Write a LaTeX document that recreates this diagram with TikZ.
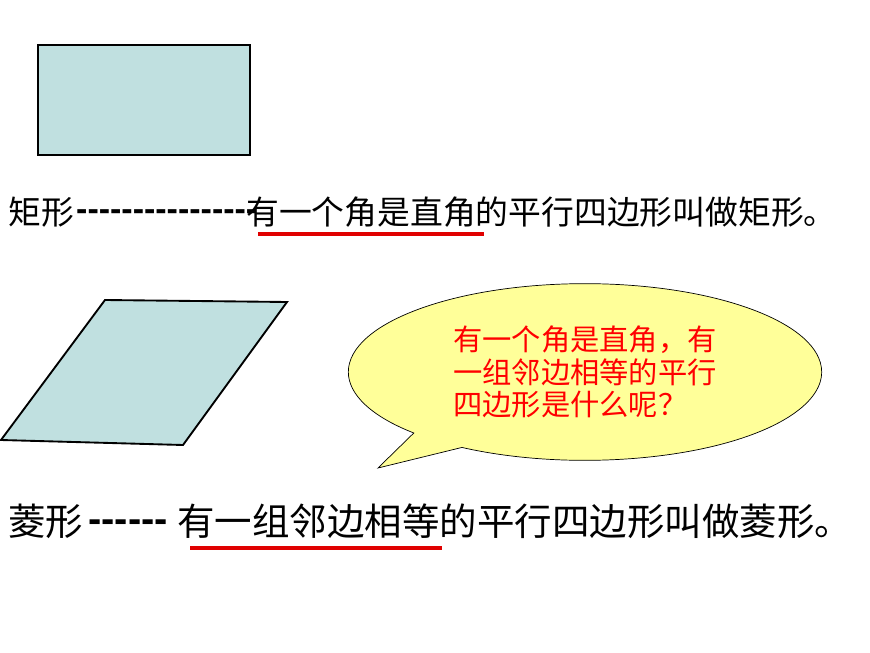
\documentclass[tikz,border=0pt]{standalone}
\usepackage{fontspec}
\newfontfamily\cjk{Noto Sans CJK SC}
\newfontfamily\dashfont{Liberation Sans}
\usetikzlibrary{shapes.callouts}
\definecolor{shapeblue}{HTML}{C0E0E0}
\definecolor{bubble}{HTML}{FFFF99}
\definecolor{linered}{HTML}{E00000}
\tikzset{
  figbox/.style={draw=black, line width=1.6pt, fill=shapeblue},
  rowa/.style={inner sep=0pt, anchor=west, font=\cjk\fontsize{28}{30}\selectfont},
  rowb/.style={inner sep=0pt, anchor=west, font=\cjk\fontsize{32}{34}\selectfont},
  underl/.style={draw=linered, line width=3pt}
}
\begin{document}
\begin{tikzpicture}[x=0.03cm,y=-0.03cm]
\useasboundingbox (0,0) rectangle (870,653);
% rectangle
\draw [figbox] (38,45) rectangle (250,155);
\node [rowa] (rname) at (8,212) {矩形};
\node [rowa, anchor=base west, font=\dashfont\bfseries\fontsize{29}{30}\selectfont] (rdash) at (76,221) {----------------};
\node [rowa] (rdef) at (246,212) {有一个角是直角的平行四边形叫做矩形。};
\coordinate (ra) at (258,234);
\coordinate (rb) at (484,234);
\draw [underl] (ra) -- (rb);
% parallelogram
\draw [figbox] (105,300) -- (287,302) -- (183,445) -- (1,440) -- cycle;
% bubble
\node [ellipse callout, draw=black, line width=0.6pt, fill=bubble,
  minimum width=14.2cm, minimum height=5.3cm,
  callout absolute pointer={(378,468)}, text=red, align=left,
  font=\cjk\fontsize{25}{28}\selectfont] (ask) at (585,372)
  {有一个角是直角，有\\一组邻边相等的平行\\四边形是什么呢？};
\node [rowb] (lname) at (8,521) {菱形};
\node [rowb, anchor=base west, font=\dashfont\bfseries\fontsize{34}{34}\selectfont] (ldash) at (88,532) {------};
\node [rowb] (ldef) at (177,521) {有一组邻边相等的平行四边形叫做菱形。};
\coordinate (la) at (190,548);
\coordinate (lb) at (442,548);
\draw [underl] (la) -- (lb);
\end{tikzpicture}
\end{document}
